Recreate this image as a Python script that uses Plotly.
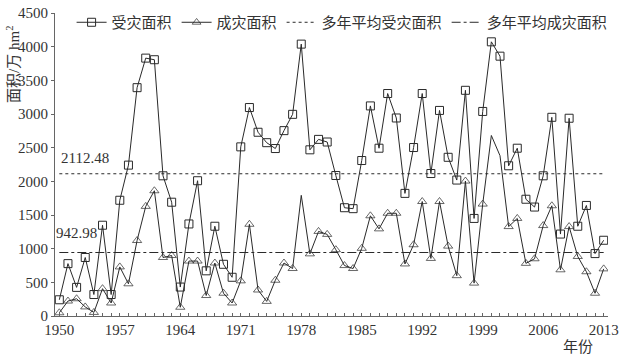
import plotly.graph_objects as go

years = list(range(1950, 2014))
affected = [241, 778, 425, 869, 319, 1348, 319, 1719, 2241, 3391,
            3830, 3806, 2082, 1690, 430, 1367, 2009, 671, 1333, 768,
            575, 2512, 3096, 2729, 2574, 2487, 2753, 2995, 4038, 2468,
            2623, 2584, 2087, 1608, 1594, 2309, 3120, 2492, 3304, 2941,
            1821, 2502, 3304, 2116, 3053, 2357, 2019, 3352, 1449, 3038,
            4072, 3859, 2231, 2492, 1734, 1618, 2082, 2951, 1217, 2937,
            1333, 1642, 927, 1125]
damaged = [48, 222, 256, 135, 53, 406, 193, 729, 478, 1121,
           1628, 1860, 869, 898, 130, 816, 816, 304, 787, 338,
           193, 522, 1362, 386, 217, 531, 787, 705, 1792, 923,
           1256, 1212, 985, 749, 705, 1005, 1488, 1294, 1526, 1526,
           773, 1058, 1700, 855, 1700, 1038, 599, 2004, 488, 1662,
           2681, 2381, 1328, 1449, 782, 850, 1343, 1637, 686, 1328,
           884, 657, 338, 700]
avg_affected = 2112.48
avg_damaged = 942.98
avg_labels = ["2112.48", "942.98"]
series_names = ["受灾面积", "成灾面积", "多年平均受灾面积", "多年平均成灾面积"]
y_ticks = list(range(0, 4501, 500))
x_label_years = list(range(1950, 2014, 7))

FONT = "Liberation Serif, Noto Sans CJK SC, serif"
LINE = "#2a2a2a"
no_marker_years = {1978, 2000, 2001}
tri_sizes = [0 if y in no_marker_years else 8 for y in years]

fig = go.Figure()
fig.add_trace(go.Scatter(
    x=years, y=affected, name=series_names[0], mode="lines+markers",
    line=dict(color=LINE, width=1),
    marker=dict(symbol="square-open", size=8, color=LINE, line=dict(width=1, color=LINE))))
fig.add_trace(go.Scatter(
    x=years, y=damaged, name=series_names[1], mode="lines+markers",
    line=dict(color=LINE, width=1),
    marker=dict(symbol="triangle-up-open", size=tri_sizes, color=LINE, line=dict(width=1, color=LINE))))
fig.add_trace(go.Scatter(
    x=[years[0], years[-1]], y=[avg_affected, avg_affected], name=series_names[2], mode="lines",
    line=dict(color=LINE, width=1, dash="dot")))
fig.add_trace(go.Scatter(
    x=[years[0], years[-1]], y=[avg_damaged, avg_damaged], name=series_names[3], mode="lines",
    line=dict(color=LINE, width=1, dash="dashdot")))

fig.add_annotation(x=1950, y=avg_affected, text=avg_labels[0], showarrow=False,
                   xanchor="left", yanchor="bottom", yshift=6, xshift=0,
                   font=dict(family=FONT, size=15, color="#333"))
fig.add_annotation(x=1949.6, y=avg_damaged, text=avg_labels[1], showarrow=False,
                   xanchor="left", yanchor="bottom", yshift=10, xshift=-2,
                   font=dict(family=FONT, size=15, color="#333"))
fig.add_annotation(xref="paper", yref="paper", x=-0.077, y=0.83, text="面积/万 hm<sup>2</sup>",
                   textangle=-90, showarrow=False, xanchor="center", yanchor="middle",
                   font=dict(family=FONT, size=15, color="#333"))
fig.add_annotation(xref="paper", yref="paper", x=0.946, y=-0.07, text="年份",
                   showarrow=False, xanchor="center", yanchor="top",
                   font=dict(family=FONT, size=15, color="#333"))

fig.update_layout(
    width=624, height=355,
    margin=dict(l=55, r=14, t=5, b=39),
    plot_bgcolor="white", paper_bgcolor="white",
    font=dict(family=FONT, size=15, color="#333"),
    showlegend=True,
    legend=dict(orientation="h", x=0.03, y=1.023, xanchor="left", yanchor="top",
                bgcolor="rgba(0,0,0,0)", font=dict(size=15), itemwidth=30,
                tracegroupgap=0),
    xaxis=dict(range=[1949.5, 2013.5], tickmode="array", tickvals=years,
               ticktext=[str(y) if y in x_label_years else "" for y in years],
               ticks="inside", ticklen=3, tickcolor="#666", showgrid=False,
               showline=True, linecolor="#666", linewidth=1, zeroline=False,
               tickfont=dict(size=15), ticklabeloverflow="allow"),
    yaxis=dict(range=[0, 4500], tickmode="array", tickvals=y_ticks,
               ticks="outside", ticklen=3, tickcolor="#666", showgrid=False,
               showline=True, linecolor="#666", linewidth=1, zeroline=False,
               tickfont=dict(size=15), ticklabelstandoff=0, ticklabeloverflow="allow"),
)

fig.write_html("out.html", config={"displayModeBar": False},
               post_script="document.body.style.margin='0';document.body.style.padding='0';")
